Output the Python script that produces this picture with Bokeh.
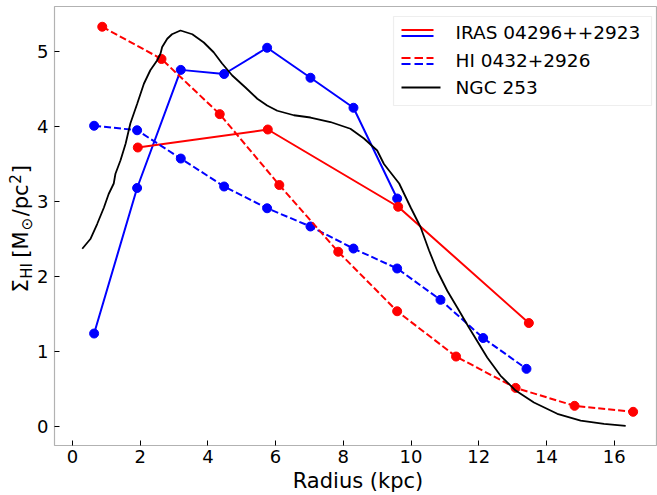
from bokeh.plotting import figure
from bokeh.models import Range1d, Label, BoxAnnotation, FixedTicker
from bokeh.embed import file_html
from bokeh.resources import INLINE

# ---------------- data ----------------
iras_red_r = [1.93, 5.77, 9.62, 13.48]
iras_red_s = [3.72, 3.96, 2.93, 1.38]

iras_blue_r = [0.64, 1.91, 3.20, 4.48, 5.75, 7.03, 8.30, 9.59]
iras_blue_s = [1.24, 3.18, 4.755, 4.70, 5.05, 4.65, 4.25, 3.04]

hi_red_r = [0.88, 2.63, 4.35, 6.11, 7.85, 9.59, 11.33, 13.09, 14.83, 16.56]
hi_red_s = [5.33, 4.90, 4.165, 3.22, 2.33, 1.537, 0.933, 0.515, 0.276, 0.196]

hi_blue_r = [0.64, 1.91, 3.20, 4.48, 5.75, 7.03, 8.30, 9.59, 10.87, 12.13, 13.41]
hi_blue_s = [4.01, 3.95, 3.573, 3.20, 2.91, 2.667, 2.373, 2.107, 1.689, 1.18, 0.769]

ngc_r = [0.29, 0.53, 0.73, 0.93, 1.07, 1.22, 1.27, 1.42, 1.57, 1.71, 1.91, 2.11,
         2.30, 2.50, 2.60, 2.65, 2.80, 2.94, 3.19, 3.54, 3.88, 4.17, 4.42, 4.72,
         5.11, 5.46, 5.75, 6.05, 6.54, 7.03, 7.62, 8.21, 8.61, 9.00, 9.20, 9.65,
         9.99, 10.28, 10.53, 10.77, 11.07, 11.36, 11.71, 12.25, 12.64, 13.09,
         13.63, 14.32, 15.01, 15.70, 16.34]
ngc_s = [2.37, 2.50, 2.70, 2.92, 3.10, 3.24, 3.37, 3.55, 3.77, 4.04, 4.30, 4.57,
         4.75, 4.88, 4.97, 5.06, 5.17, 5.23, 5.28, 5.23, 5.12, 4.99, 4.84, 4.68,
         4.52, 4.37, 4.28, 4.21, 4.15, 4.12, 4.06, 3.97, 3.84, 3.68, 3.50, 3.24,
         2.92, 2.66, 2.35, 2.08, 1.81, 1.59, 1.32, 0.92, 0.68, 0.48,
         0.32, 0.17, 0.08, 0.036, 0.009]

x_ticks = [0, 2, 4, 6, 8, 10, 12, 14, 16]
y_ticks = [0, 1, 2, 3, 4, 5]
legend_labels = ["IRAS 04296++2923", "HI 0432+2926", "NGC 253"]
x_label = "Radius (kpc)"

# ---------------- geometry ----------------
W, H = 657, 495
X0, X1 = -0.53, 17.25      # visible axes limits
Y0, Y1 = -0.253, 5.6
FL, FR, FT, FB = 54, 656, 6, 445   # axes box in pixels
KX = (FR - FL) / (X1 - X0)
KY = (FB - FT) / (Y1 - Y0)
XS = X0 - FL / KX
XE = XS + W / KX
YE = Y1 + FT / KY
YS = YE - H / KY


def px2x(px):
    return XS + px / KX


def py2y(py):
    return YE - py / KY


p = figure(width=W, height=H, output_backend="svg", toolbar_location=None,
           x_range=Range1d(XS, XE), y_range=Range1d(YS, YE),
           min_border_left=0, min_border_right=0,
           min_border_top=0, min_border_bottom=0)
p.background_fill_color = "white"
p.border_fill_color = "white"
p.outline_line_color = None
p.grid.visible = False

for ax in (p.xaxis[0], p.yaxis[0]):
    ax.major_tick_in = 5
    ax.major_tick_out = 0
    ax.minor_tick_in = 0
    ax.minor_tick_out = 0
    ax.major_tick_line_color = "black"
    ax.major_tick_line_width = 1
    ax.axis_line_color = None
    ax.major_label_text_font = "DejaVu Sans"
    ax.major_label_text_font_size = "18px"
    ax.major_label_text_color = "black"

p.xaxis.fixed_location = Y0
p.yaxis.fixed_location = X0
p.xaxis.bounds = (X0, X1)
p.yaxis.bounds = (Y0, Y1)
p.xaxis.ticker = FixedTicker(ticks=x_ticks)
p.yaxis.ticker = FixedTicker(ticks=y_ticks)
p.xaxis.major_label_standoff = 4
p.yaxis.major_label_standoff = 6

# axes box (spines)
p.add_layout(BoxAnnotation(left=X0, right=X1, bottom=Y0, top=Y1,
                           fill_alpha=0, line_color="black", line_width=1.2,
                           level="underlay"))

# ---------------- series ----------------
RED = "#ff0000"
BLUE = "#0000ff"

p.line(iras_blue_r, iras_blue_s, line_color=BLUE, line_width=2)
p.scatter(iras_blue_r, iras_blue_s, size=9, fill_color=BLUE, line_color=BLUE)
p.line(iras_red_r, iras_red_s, line_color=RED, line_width=2)
p.scatter(iras_red_r, iras_red_s, size=9, fill_color=RED, line_color=RED)

p.line(hi_blue_r, hi_blue_s, line_color=BLUE, line_width=2, line_dash="7 3")
p.scatter(hi_blue_r, hi_blue_s, size=9, fill_color=BLUE, line_color=BLUE)
p.line(hi_red_r, hi_red_s, line_color=RED, line_width=2, line_dash="7 3")
p.scatter(hi_red_r, hi_red_s, size=9, fill_color=RED, line_color=RED)

p.line(ngc_r, ngc_s, line_color="black", line_width=1.8)


def text_label(x, y, txt, size, align="left", angle=0):
    p.add_layout(Label(x=x, y=y, text=txt, angle=angle, angle_units="deg",
                       text_font="DejaVu Sans", text_font_size=f"{size}px",
                       text_color="black", text_align=align,
                       text_baseline="middle"))


# ---------------- x axis label (anchor = cap centre) ----------------
text_label(px2x(357.5), py2y(480.5), x_label, 21, align="center")

# ---------------- y axis label (with sub/superscripts) ----------------
L, S = 21, 15
base_px = 28          # baseline of the main-size text (rotated)
# (text, font size, baseline offset in px (+ = lowered), advance + gap)
pieces = [
    ("Σ", L, 0, 0.632 * L + 0.5),
    ("HI", S, 4, 1.047 * S + 0.8 * 0.318 * L),
    ("[M", L, 0, (0.390 + 0.863) * L + 1.0),
    ("⊙", S, 4, 0.838 * S + 1.5),
    ("/pc", L, 0, (0.337 + 0.635 + 0.550) * L + 0.5),
    ("2", S, -8, 0.636 * S + 1.0),
    ("]", L, 0, 0.39 * L),
]
cur = 292.0
for txt, fs, off, w in pieces:
    cx = base_px + off - 0.3645 * fs   # cap centre of this piece
    text_label(px2x(cx), py2y(cur), txt, fs, align="left", angle=90)
    cur -= w

# ---------------- legend ----------------
p.add_layout(BoxAnnotation(left=px2x(393), right=px2x(651), top=py2y(16), bottom=py2y(105),
                           fill_color="white", fill_alpha=0.85,
                           line_color="#c8c8c8", line_width=1.2))


def seg(l, r, cy, color, h=2.0):
    p.add_layout(BoxAnnotation(left=px2x(l), right=px2x(r),
                               top=py2y(cy - h / 2), bottom=py2y(cy + h / 2),
                               fill_color=color, fill_alpha=1, line_color=None))


seg(401, 433, 29.5, RED)
seg(401, 433, 35.5, BLUE)
for a, b in [(401, 410), (414, 422.5), (426, 433)]:
    seg(a, b, 57.5, RED)
    seg(a, b, 63.5, BLUE)
seg(401, 440, 87, "black", h=1.8)

for lab, cy in zip(legend_labels, [31.5, 59.8, 87.2]):
    text_label(px2x(455), py2y(cy), lab, 18.5)

open("out.html", "w").write(file_html(p, INLINE))
